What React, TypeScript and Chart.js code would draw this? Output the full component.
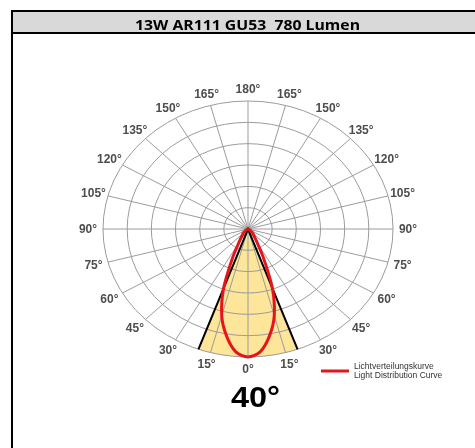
import React, { useEffect, useRef } from 'react';
import { Chart, registerables } from 'chart.js';

Chart.register(...registerables);

// ---- data ----
const TITLE = '13W AR111 GU53  780 Lumen';
const BEAM_LABEL = '40°';
const BEAM_ANGLE = 40;
const LEGEND_LINES = ['Lichtverteilungskurve', 'Light Distribution Curve'];
const RING_VALUES = [1, 2, 3, 4, 5, 6];
const R_MAX = 6;
const SPOKE_STEP = 15;
const LABEL_ANGLES = [0, 15, 30, 45, 60, 75, 90, 105, 120, 135, 150, 165, 180];
// light distribution curve (symmetric), angle from nadir in degrees -> relative intensity (ring units)
const CURVE_ANGLES = [0, 5, 10, 15, 20, 25, 30, 35, 45, 60, 90];
const CURVE_VALUES = [6.0, 5.78, 5.1, 4.2, 2.95, 1.55, 0.8, 0.5, 0.28, 0.1, 0];

const pt = (deg: number, r: number) => {
  const a = (deg * Math.PI) / 180;
  return { x: r * Math.sin(a), y: -r * Math.cos(a) };
};

export default function App() {
  const ref = useRef<HTMLCanvasElement>(null);

  useEffect(() => {
    const canvas = ref.current!;

    const curvePts: { x: number; y: number }[] = [];
    for (let i = CURVE_ANGLES.length - 1; i > 0; i--) curvePts.push(pt(-CURVE_ANGLES[i], CURVE_VALUES[i]));
    for (let i = 0; i < CURVE_ANGLES.length; i++) curvePts.push(pt(CURVE_ANGLES[i], CURVE_VALUES[i]));

    const half = BEAM_ANGLE / 2;
    const edgePts = [pt(-half, R_MAX), pt(0, 0), pt(half, R_MAX)];
    const conePts = [pt(0, 0)];
    for (let d = -half; d <= half; d += 1) conePts.push(pt(d, R_MAX));
    conePts.push(pt(0, 0));

    const geom = (chart: any) => {
      const xs = chart.scales.x;
      const ys = chart.scales.y;
      const cx = xs.getPixelForValue(0);
      const cy = ys.getPixelForValue(0);
      const rx = xs.getPixelForValue(R_MAX) - cx;
      const ry = cy - ys.getPixelForValue(R_MAX);
      return { xs, ys, cx, cy, rx, ry };
    };

    const gridPlugin = {
      id: 'polarGrid',
      afterDatasetDraw(chart: any, args: any) {
        if (args.index !== 2) return;
        const ctx = chart.ctx;
        const { xs, ys, cx, cy } = geom(chart);
        ctx.save();
        ctx.strokeStyle = '#9b9b9b';
        ctx.lineWidth = 1;
        for (const r of RING_VALUES) {
          const rx = xs.getPixelForValue(r) - cx;
          const ry = cy - ys.getPixelForValue(r);
          ctx.beginPath();
          ctx.ellipse(cx, cy, rx, ry, 0, 0, Math.PI * 2);
          ctx.stroke();
        }
        for (let d = 0; d < 360; d += SPOKE_STEP) {
          const p = pt(d, R_MAX);
          ctx.beginPath();
          ctx.moveTo(cx, cy);
          ctx.lineTo(xs.getPixelForValue(p.x), ys.getPixelForValue(p.y));
          ctx.stroke();
        }
        ctx.restore();
      },
    };

    const decorPlugin = {
      id: 'decor',
      afterDraw(chart: any) {
        const ctx = chart.ctx;
        const { cx, cy, rx, ry } = geom(chart);
        ctx.save();
        // frame + title bar
        ctx.fillStyle = '#d9d9d9';
        ctx.fillRect(13, 12, 475, 20);
        ctx.fillStyle = '#000';
        ctx.fillRect(11, 10, 475, 2);
        ctx.fillRect(11, 32, 475, 2);
        ctx.fillRect(11, 10, 2, 448);
        ctx.font = 'bold 14px "Open Sans"';
        ctx.textBaseline = 'alphabetic';
        ctx.textAlign = 'center';
        const w = ctx.measureText(TITLE).width;
        ctx.save();
        ctx.translate(247.5, 29.5);
        ctx.scale(225 / w, 1);
        ctx.fillText(TITLE, 0, 0);
        ctx.restore();

        // angle labels
        ctx.font = 'bold 12px "Liberation Sans"';
        ctx.fillStyle = '#4d4d4d';
        ctx.textAlign = 'center';
        ctx.textBaseline = 'middle';
        for (const d of LABEL_ANGLES) {
          const sides = d === 0 || d === 180 ? [1] : [-1, 1];
          for (const s of sides) {
            const a = (d * Math.PI) / 180;
            const x = cx + s * (rx + 15) * Math.sin(a);
            const y = cy + (ry + 12) * Math.cos(a);
            ctx.fillText(d + '°', x, y + 0.5);
          }
        }

        // beam angle label
        ctx.save();
        ctx.font = 'bold 29px "Liberation Sans"';
        ctx.fillStyle = '#000';
        ctx.textAlign = 'center';
        ctx.textBaseline = 'alphabetic';
        ctx.translate(255.5, 407);
        ctx.scale(1.12, 1);
        ctx.fillText(BEAM_LABEL, 0, 0);
        ctx.restore();

        // legend
        ctx.strokeStyle = '#e8141c';
        ctx.lineWidth = 3;
        ctx.beginPath();
        ctx.moveTo(321, 371);
        ctx.lineTo(349, 371);
        ctx.stroke();
        ctx.font = '8.5px "Liberation Sans"';
        ctx.fillStyle = '#333';
        ctx.textAlign = 'left';
        ctx.textBaseline = 'middle';
        ctx.fillText(LEGEND_LINES[0], 354, 367);
        ctx.fillText(LEGEND_LINES[1], 354, 376);
        ctx.restore();
      },
    };

    const chart = new Chart(canvas, {
      type: 'scatter',
      data: {
        datasets: [
          {
            data: curvePts,
            showLine: true,
            borderColor: '#e8141c',
            borderWidth: 3,
            pointRadius: 0,
            tension: 0.3,
            fill: false,
            clip: false,
          } as any,
          {
            data: edgePts,
            showLine: true,
            borderColor: '#000',
            borderWidth: 2,
            pointRadius: 0,
            tension: 0,
            fill: false,
            clip: false,
          } as any,
          {
            data: conePts,
            showLine: true,
            borderColor: 'rgba(0,0,0,0)',
            borderWidth: 0,
            backgroundColor: '#fde59a',
            pointRadius: 0,
            tension: 0,
            fill: 'shape',
            clip: false,
          } as any,
        ],
      },
      options: {
        responsive: false,
        maintainAspectRatio: false,
        animation: false,
        devicePixelRatio: 1,
        layout: { padding: { left: 103, right: 82, top: 101, bottom: 91 } },
        scales: {
          x: { type: 'linear', min: -R_MAX, max: R_MAX, display: false },
          y: { type: 'linear', min: -R_MAX, max: R_MAX, display: false },
        },
        plugins: {
          legend: { display: false },
          tooltip: { enabled: false },
        },
      },
      plugins: [gridPlugin, decorPlugin],
    } as any);

    return () => chart.destroy();
  }, []);

  return (
    <div style={{ position: 'absolute', left: 0, top: 0, width: 475, height: 448, background: '#fff' }}>
      <canvas ref={ref} width={475} height={448} style={{ display: 'block', width: 475, height: 448 }} />
    </div>
  );
}
